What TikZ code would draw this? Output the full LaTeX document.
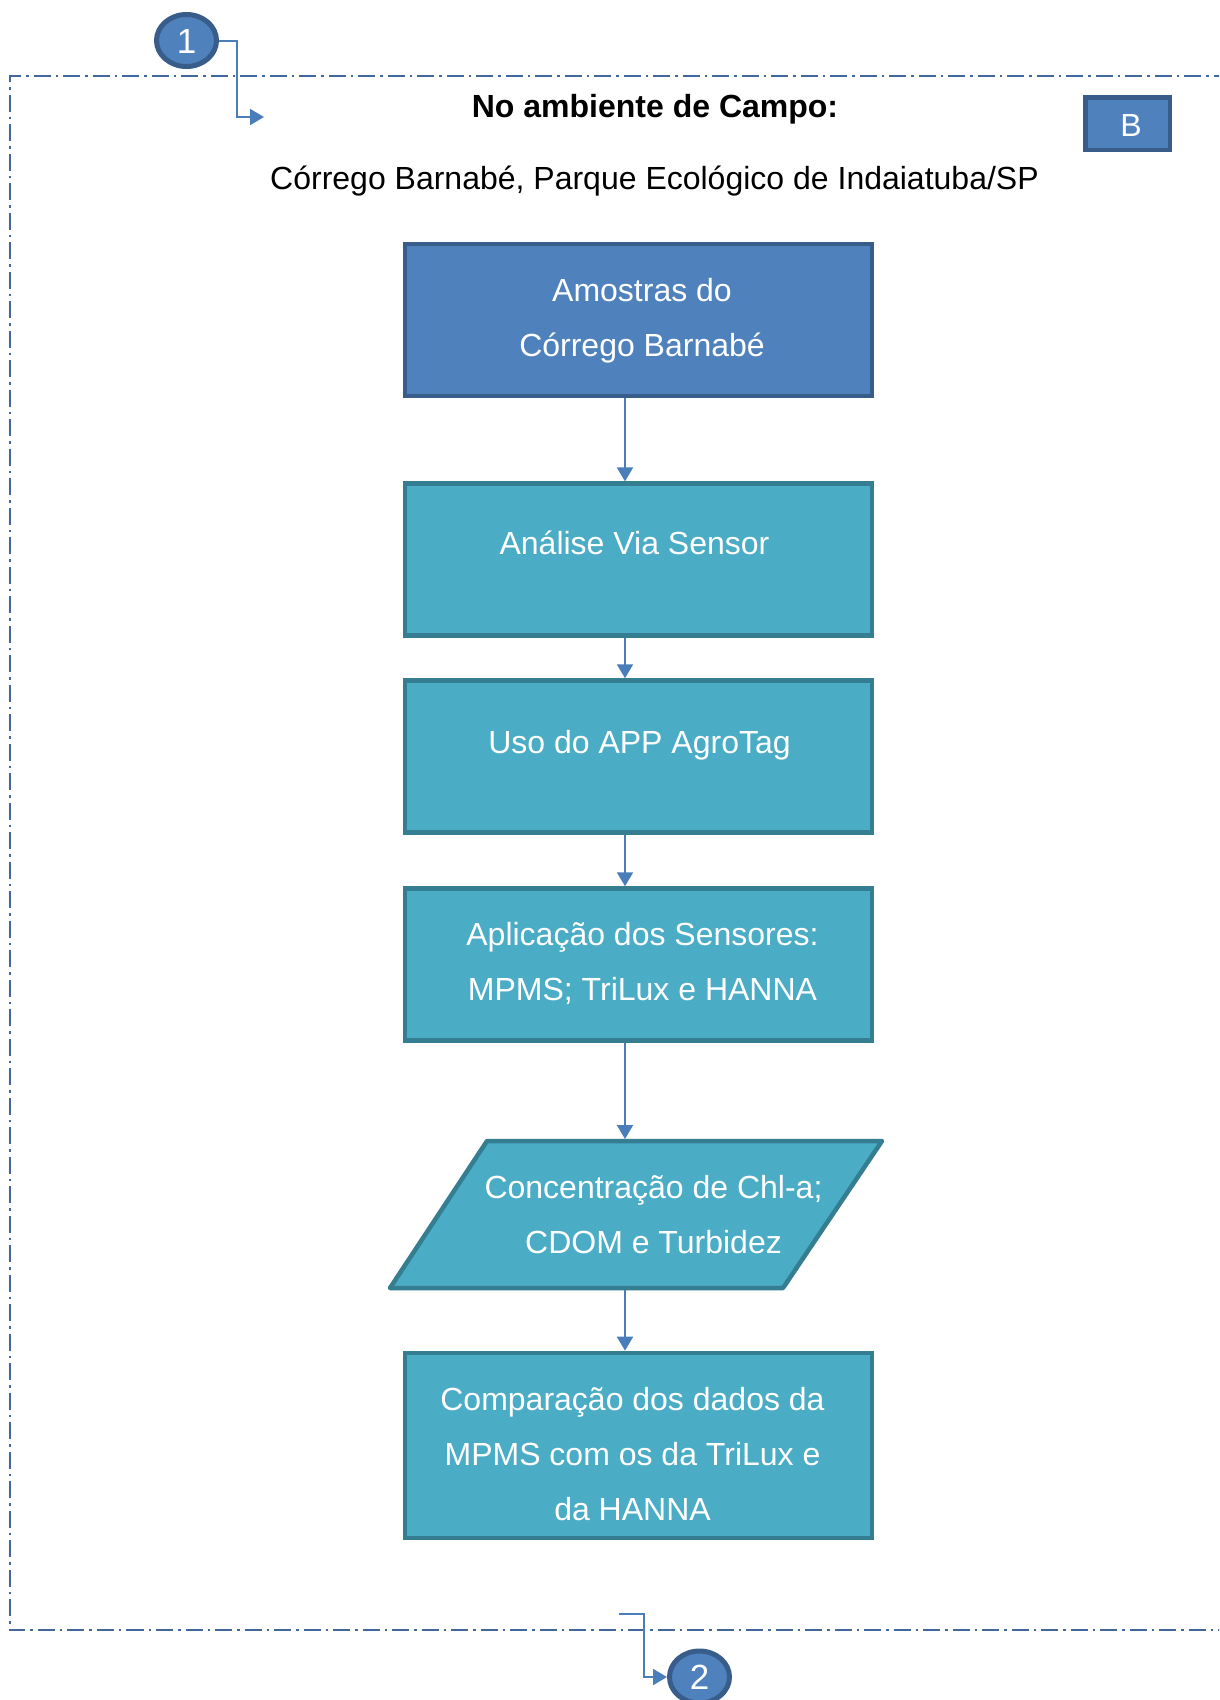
\documentclass[tikz,border=0pt]{standalone}
\usepackage{fontspec}
\setmainfont{Liberation Sans}
\usetikzlibrary{arrows.meta,shapes.geometric}
\definecolor{bluefill}{HTML}{4F81BD}
\definecolor{blueline}{HTML}{385D8A}
\definecolor{tealfill}{HTML}{4BACC6}
\definecolor{tealline}{HTML}{357D91}
\definecolor{connc}{HTML}{4A7EBB}
\definecolor{framec}{HTML}{41679C}
\begin{document}
\begin{tikzpicture}[x=1pt,y=-1pt,
  bluebox/.style={draw=blueline, fill=bluefill, line width=4.5pt, minimum width=467pt, minimum height=152pt, inner sep=0pt},
  tealbox/.style={draw=tealline, fill=tealfill, line width=4.5pt, minimum width=467pt, minimum height=152pt, inner sep=0pt},
  boxtxt/.style={text=white, font=\fontsize{32}{55}\selectfont, align=center, inner sep=0pt},
  onetxt/.style={font=\fontsize{32}{55}\selectfont, inner sep=0pt, text height=23pt, text depth=7pt},
  oval/.style={ellipse, draw=blueline, fill=bluefill, line width=5pt, minimum width=60pt, minimum height=52pt, inner sep=0pt, text=white, font=\fontsize{35}{40}\selectfont, text height=25pt, text depth=0pt},
  conn/.style={draw=connc, line width=2pt, -{Triangle[length=14pt,width=16pt]}},
  frame/.style={draw=framec, line width=2pt, dash pattern=on 17pt off 5pt on 2.5pt off 5pt}
]
\clip (0,0) rectangle (1219,1700);
\fill[white] (0,0) rectangle (1219,1700);

% dashed frame
\draw[frame] (1260,76) -- (10,76) -- (10,1630) -- (1260,1630);

% circles
\node[oval] (c1) at (186.5,40.5) {1};
\node[oval] (c2) at (699.5,1677) {2};

% titles
\node[onetxt, font=\fontsize{32}{55}\selectfont\bfseries] (title) at (655,109.8) {No ambiente de Campo:};
\node[onetxt] (sub) at (654.5,181.5) {Córrego Barnabé, Parque Ecológico de Indaiatuba/SP};

% B box
\node[draw=blueline, fill=bluefill, line width=4.5pt, minimum width=84.5pt, minimum height=52.5pt, inner sep=0pt] (bb) at (1127.5,123.5) {};
\node[text=white, font=\fontsize{32}{38}\selectfont, inner sep=0pt, text height=23pt, text depth=0pt] (bt) at (1131,125) {B};

% boxes
\node[bluebox] (b1) at (638.5,320) {};
\node[tealbox] (b2) at (638.5,559.6) {};
\node[tealbox] (b3) at (638.5,756.5) {};
\node[tealbox] (b4) at (638.5,964.5) {};
\node[tealbox, minimum height=185pt] (b6) at (638.5,1445.4) {};

% parallelogram
\draw[draw=tealline, fill=tealfill, line width=4.5pt, line join=round]
  (487,1141) -- (882,1141) -- (783,1288) -- (390,1288) -- cycle;
\coordinate (ptop) at (625,1139);
\coordinate (pbot) at (625,1290);

% texts
\node[boxtxt] (t1) at (642,320.4) {Amostras do\\Córrego Barnabé};
\node[onetxt, text=white] (t2) at (634.5,546.5) {Análise Via Sensor};
\node[onetxt, text=white] (t3) at (639.5,745.5) {Uso do APP AgroTag};
\node[boxtxt] (t4) at (642.5,963.2) {Aplicação dos Sensores:\\MPMS; TriLux e HANNA};
\node[boxtxt] (t5) at (653.5,1214.3) {Concentração de Chl-a;\\CDOM e Turbidez};
\node[boxtxt] (t6) at (632.5,1453.8) {Comparação dos dados da\\MPMS com os da TriLux e\\da HANNA};

% connectors
\coordinate (ax) at (625,0);
\draw[conn] (b1.south -| ax) -- (b2.north -| ax);
\draw[conn] (b2.south -| ax) -- (b3.north -| ax);
\draw[conn] (b3.south -| ax) -- (b4.north -| ax);
\draw[conn] (b4.south -| ax) -- (ptop);
\draw[conn] (pbot) -- (b6.north -| ax);

\coordinate (e1) at (264,117);
\draw[conn] (c1.east) -- ++(18,0) |- (e1);
\coordinate (s2) at (619,1614);
\draw[conn] (s2) -- ++(25,0) |- (c2.west);
\end{tikzpicture}
\end{document}
